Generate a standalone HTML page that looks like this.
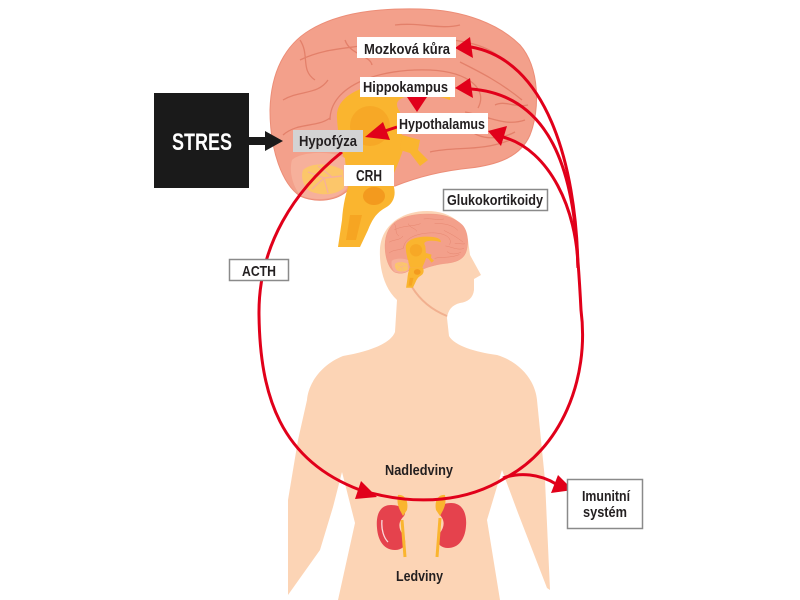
<!DOCTYPE html>
<html><head><meta charset="utf-8"><style>
html,body{margin:0;padding:0;background:#fff;}
svg{display:block;}
text{font-family:"Liberation Sans Narrow","Liberation Sans",sans-serif;font-weight:bold;fill:#231f20;}
</style></head><body>
<svg width="800" height="600" viewBox="0 0 800 600" xmlns="http://www.w3.org/2000/svg">
<defs>
<g id="brain">
  <path d="M300,196 C282,184 270,150 270,110 C271,72 285,45 310,30 C340,12 380,8 420,9 C465,10 500,25 520,45 C540,68 540,110 530,135 C520,158 495,165 470,168 C440,171 415,178 395,186 L348,190 C338,200 318,204 300,196 Z" fill="#f3a08b" stroke="#ec8d77" stroke-width="1"/>
  <g fill="none" stroke="#e3806a" stroke-width="1.3">
    <path d="M300,60 C330,45 360,50 385,40"/>
    <path d="M395,25 C420,22 440,30 460,25"/>
    <path d="M430,40 C460,38 490,45 505,62"/>
    <path d="M283,100 C300,90 318,95 328,80"/>
    <path d="M460,62 C480,72 500,82 522,100"/>
    <path d="M283,135 C298,122 316,128 330,118"/>
    <path d="M430,152 C455,146 480,152 510,140"/>
    <path d="M465,112 C488,116 505,127 525,120"/>
    <path d="M330,120 C330,85 380,68 430,70 C470,72 488,90 478,108"/>
    <path d="M300,40 C310,55 300,70 315,80"/>
    <path d="M470,130 C480,140 500,140 515,132"/>
    <path d="M345,40 C350,55 370,55 372,65"/>
    <path d="M495,105 C505,100 515,108 528,105"/>
  </g>
  <path d="M337,118 C335,95 365,82 405,82 C435,82 452,88 450,100 C440,96 425,94 410,96 C395,98 395,105 400,112 L403,150 C398,165 393,175 390,182 L352,182 C345,165 338,140 337,118 Z" fill="#fab52f"/>
  <ellipse cx="370" cy="126" rx="20" ry="20" fill="#f7a826"/>
  <path d="M402,135 L420,140 L418,150 L428,160 L420,166 L410,153 L400,150 Z" fill="#fab52f"/>
  <path d="M292,160 C300,152 330,150 345,158 L347,188 C338,200 315,202 300,195 C292,185 289,170 292,160 Z" fill="#f6b09b"/>
  <path d="M303,170 C312,162 330,163 343,170 L344,188 C335,196 318,196 308,190 C302,183 301,176 303,170 Z" fill="#fcc66a"/>
  <g stroke="#f6b09b" stroke-width="1.4" fill="none">
    <path d="M342,176 L324,178 L308,172 M324,178 L312,189 M324,178 L328,193 M332,177 L318,166"/>
  </g>
  <path d="M350,182 L392,182 C397,192 395,203 385,208 C376,213 372,220 368,230 L360,247 L338,247 L342,220 C343,205 346,192 350,182 Z" fill="#fab52f"/>
  <ellipse cx="374" cy="196" rx="11" ry="9" fill="#f39a1e"/>
  <path d="M350,215 L362,215 L356,240 L346,240 Z" fill="#f6a522"/>
</g>
</defs>

<!-- body -->
<path d="M397,300 C384,288 379,268 380,248 C382,225 402,211 427,211 C452,211 466,225 468,240 L470,255 L481,275 L474,279 L474,290 C473,298 468,302 460,303 C452,305 448,310 447,318 L449,336 C455,346 475,352 497,355 C520,362 535,380 537,400 L545,480 L550,590 L547,588 L518,513 L502,470 L487,520 L500,600 L338,600 L355,523 L342,472 L333,507 L320,550 L288,595 L288,500 L298,440 L307,400 C308,385 320,365 343,356 C365,352 390,345 395,332 Z" fill="#fcd4b5"/>
<path d="M412,287 C420,300 432,310 447,316" fill="none" stroke="#f1b08f" stroke-width="2"/>

<!-- small brain in head -->
<use href="#brain" transform="translate(385,214) scale(0.31) translate(-270,-9)"/>

<!-- big brain -->
<use href="#brain"/>

<!-- kidneys -->
<path d="M391,505 C378,505 376,518 377,528 C378,542 385,550 395,550 C404,550 408,543 403,535 C398,528 398,522 404,516 C408,509 400,505 391,505 Z" fill="#e5424d"/>
<path d="M451,503 C464,503 467,516 466,526 C465,540 458,548 448,548 C439,548 435,541 440,533 C445,526 445,520 439,514 C435,507 443,503 451,503 Z" fill="#e5424d"/>
<path d="M382,520 C381,530 384,538 388,542" fill="none" stroke="#fff" stroke-width="1.3" opacity="0.8"/>
<path d="M398,495 C404,494 409,500 407,510 L403,516 C400,510 396,505 398,495 Z" fill="#fab52f"/>
<path d="M445,495 C439,494 434,500 436,510 L440,516 C443,510 447,505 445,495 Z" fill="#fab52f"/>
<path d="M402,520 L405,557" stroke="#fab52f" stroke-width="3" fill="none"/>
<path d="M440,518 L437,557" stroke="#fab52f" stroke-width="3" fill="none"/>

<!-- STRES -->
<rect x="154" y="93" width="95" height="95" fill="#1a1a1a"/>
<text x="172" y="150" font-size="24" textLength="60" lengthAdjust="spacingAndGlyphs" style="fill:#fff">STRES</text>
<rect x="249" y="137" width="18" height="8" fill="#1a1a1a"/>
<polygon points="265,131 283,141 265,151" fill="#1a1a1a"/>

<!-- red connectors -->
<g fill="none" stroke="#e1001a" stroke-width="3">
  <path d="M342,152 C295,190 258,245 259,315 C260,395 280,460 360,490"/>
  <path d="M360,490 C420,508 470,500 505,478 C560,450 590,380 581,310 C580,290 579,275 578,262"/>
  <path d="M578,268 C576,160 545,60 471,47"/>
  <path d="M578,268 C575,170 550,95 471,89"/>
  <path d="M578,268 C577,210 550,150 503,137"/>
  <path d="M503,478 C520,472 540,474 556,484"/>
  <path d="M397,127 L385,131"/>
</g>
<g fill="#e1001a">
  <polygon points="455,48 470,37 473,58"/>
  <polygon points="455,88 470,78 473,98"/>
  <polygon points="488,131 507,126 501,146"/>
  <polygon points="417,112 407,97 427,97"/>
  <polygon points="365,137 383,122 390,140"/>
  <polygon points="377,497 361,481 355,499"/>
  <polygon points="573,490 558,475 551,493"/>
</g>

<!-- labels -->
<rect x="357" y="37" width="99" height="21" fill="#fff"/>
<text x="364" y="54" font-size="15" textLength="86" lengthAdjust="spacingAndGlyphs">Mozková kůra</text>
<rect x="360" y="77" width="95" height="20" fill="#fff"/>
<text x="363" y="92" font-size="15" textLength="85" lengthAdjust="spacingAndGlyphs">Hippokampus</text>
<rect x="397" y="113" width="91" height="21" fill="#fff"/>
<text x="399" y="129" font-size="15" textLength="86" lengthAdjust="spacingAndGlyphs">Hypothalamus</text>
<rect x="293" y="130" width="70" height="22" fill="#d3d3d3"/>
<text x="299" y="146" font-size="15" textLength="58" lengthAdjust="spacingAndGlyphs">Hypofýza</text>
<rect x="344" y="165" width="50" height="21" fill="#fff"/>
<text x="356" y="181" font-size="16" textLength="26" lengthAdjust="spacingAndGlyphs">CRH</text>
<rect x="443.5" y="189.5" width="104" height="21" fill="#fff" stroke="#8a8a8a" stroke-width="1.5"/>
<text x="447" y="205" font-size="15" textLength="96" lengthAdjust="spacingAndGlyphs">Glukokortikoidy</text>
<rect x="229.5" y="259.5" width="59" height="21" fill="#fff" stroke="#8a8a8a" stroke-width="1.5"/>
<text x="242" y="276" font-size="15" textLength="34" lengthAdjust="spacingAndGlyphs">ACTH</text>
<text x="385" y="475" font-size="15" textLength="68" lengthAdjust="spacingAndGlyphs">Nadledviny</text>
<text x="396" y="581" font-size="15" textLength="47" lengthAdjust="spacingAndGlyphs">Ledviny</text>
<rect x="567.5" y="479.5" width="75" height="49" fill="#fff" stroke="#8a8a8a" stroke-width="1.5"/>
<text x="582" y="501" font-size="15" textLength="48" lengthAdjust="spacingAndGlyphs">Imunitní</text>
<text x="583" y="517" font-size="15" textLength="44" lengthAdjust="spacingAndGlyphs">systém</text>
</svg>
</body></html>
